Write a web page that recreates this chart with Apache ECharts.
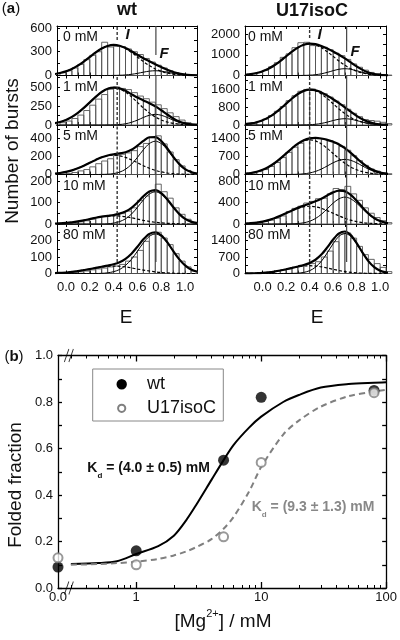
<!DOCTYPE html>
<html><head><meta charset="utf-8">
<script src="https://cdn.jsdelivr.net/npm/echarts@6/dist/echarts.min.js"></script>
<style>html,body{margin:0;padding:0;background:#fff}#c{width:400px;height:640px}</style>
</head><body><div id="c"></div>
<script>
// ---------------- DATA ----------------
const concLabels = ['0 mM','1 mM','5 mM','10 mM','80 mM'];
const eTickVals = [0,0.1,0.2,0.3,0.4,0.5,0.6,0.7,0.8,0.9,1.0];
const eLabelVals = [0,0.2,0.4,0.6,0.8,1.0];
const fitE = [-0.15,-0.1,-0.05,0,0.05,0.1,0.15,0.2,0.25,0.3,0.35,0.4,0.45,0.5,0.55,0.6,0.65,0.7,0.75,0.8,0.85,0.9,0.95,1.0,1.05,1.1];

// wt histograms (bin width 0.05)
const wtBinE = [-0.025,0.025,0.075,0.125,0.175,0.225,0.275,0.325,0.375,0.425,0.475,0.525,0.575,0.625,0.675,0.725,0.775,0.825,0.875,0.925,0.975,1.025,1.075];
const wtBars0 = [35,60,95,140,200,255,300,420,360,370,365,335,300,265,215,170,130,95,60,35,18,8,3];
const wtBars1 = [30,52,85,130,190,260,340,400,470,500,480,465,425,380,345,300,265,215,160,110,65,30,12];
const wtBars2 = [6,12,22,40,55,85,120,150,175,210,225,240,265,310,345,410,430,340,250,165,95,45,15];
const wtBars3 = [2,3,6,10,15,22,30,35,38,42,48,60,75,110,130,150,185,150,120,75,45,22,8];
const wtBars4 = [2,3,6,10,15,22,28,33,40,45,55,75,100,140,195,240,250,215,175,120,75,40,15];
const wtTotal0 = [9,17,31,52,83,125,176,234,291,340,373,386,376,347,306,261,218,180,143,107,73,44,24,11,5,2];
const wtI0 = [9,17,31,52,83,125,176,234,291,340,373,385,373,340,291,234,176,125,83,52,31,17,9,4,2,1];
const wtF0 = [0,0,0,0,0,0,0,0,0,0,0,1,3,7,15,27,42,55,60,55,42,27,15,7,3,1];
const wtTotal1 = [11,22,39,66,106,159,224,297,370,433,476,492,481,449,405,361,323,287,246,194,138,86,46,21,8,3];
const wtI1 = [11,22,39,66,106,159,224,297,370,433,475,490,475,433,370,297,224,159,106,66,39,22,11,5,2,1];
const wtF1 = [0,0,0,0,0,0,0,0,0,0,1,2,6,16,35,64,99,128,140,128,99,64,35,16,6,2];
const wtTotal2 = [5,9,17,29,46,70,98,131,162,191,211,225,234,248,275,321,373,414,416,373,292,199,118,60,27,10];
const wtI2 = [5,9,17,29,46,70,98,131,162,190,208,215,208,190,162,131,98,70,46,29,17,9,5,2,1,0];
const wtF2 = [0,0,0,0,0,0,0,0,0,1,3,10,26,58,113,190,275,344,370,344,275,190,113,58,26,10];
const wtTotal3 = [1,2,3,5,8,12,17,23,29,34,38,42,48,58,75,100,129,151,158,144,115,79,47,24,11,4];
const wtI3 = [1,2,3,5,8,12,17,23,29,34,37,38,37,34,29,23,17,12,8,5,3,2,1,0,0,0];
const wtF3 = [0,0,0,0,0,0,0,0,0,0,1,4,11,24,46,77,112,139,150,139,112,77,46,24,11,4];
const wtTotal4 = [1,2,4,6,10,15,21,27,34,41,48,56,68,89,120,162,207,240,250,231,190,137,87,49,24,11];
const wtI4 = [1,2,4,6,10,15,21,27,34,40,44,45,44,40,34,27,21,15,10,6,4,2,1,0,0,0];
const wtF4 = [0,0,0,0,0,0,0,0,0,1,4,11,24,49,86,135,186,225,240,225,186,135,86,49,24,11];
const wtYMax = [625,650,550,230,300];
const wtYLabels = [[0,300,600],[0,250,500],[0,200,400],[0,100,200],[0,100,200]];

// U17isoC histograms
const u17BinE = [-0.125,-0.075,-0.025,0.025,0.075,0.125,0.175,0.225,0.275,0.325,0.375,0.425,0.475,0.525,0.575,0.625,0.675,0.725,0.775,0.825,0.875,0.925,0.975,1.025,1.075];
const u17Bars0 = [40,80,150,250,420,620,880,1050,1350,1590,1610,1450,1430,1370,1250,1080,960,780,560,400,260,150,90,50,20];
const u17Bars1 = [45,85,160,260,420,610,820,1080,1300,1500,1580,1600,1500,1390,1240,1060,900,700,520,370,240,200,170,120,60];
const u17Bars2 = [30,60,110,190,310,460,650,850,1050,1200,1330,1420,1380,1350,1300,1200,1080,930,720,530,350,210,130,60,30];
const u17Bars3 = [8,15,25,45,70,110,150,230,290,330,390,420,470,480,560,660,640,700,560,440,300,200,120,60,25];
const u17Bars4 = [3,8,18,35,60,100,150,200,260,320,380,420,500,700,950,1350,1680,1720,1500,1150,800,600,420,260,80];
const u17Total0 = [35,67,122,207,330,497,701,929,1155,1352,1488,1545,1521,1433,1306,1162,1004,827,633,440,273,149,73,32,13,4];
const u17I0 = [35,67,122,207,330,497,701,929,1155,1351,1483,1530,1483,1351,1155,929,701,497,330,207,122,67,35,17,8,3];
const u17F0 = [0,0,0,0,0,0,0,0,0,1,5,15,38,82,151,233,303,330,303,233,151,82,38,15,5,1];
const u17Total1 = [36,69,125,211,337,507,714,947,1178,1378,1516,1572,1544,1447,1306,1145,971,787,594,409,253,139,68,29,12,4];
const u17I1 = [36,69,125,211,337,507,714,947,1178,1377,1512,1560,1512,1377,1178,947,714,507,337,211,125,69,36,17,8,3];
const u17F1 = [0,0,0,0,0,0,0,0,0,1,4,12,32,70,128,198,257,280,257,198,128,70,32,12,4,1];
const u17Total2 = [31,59,106,180,287,432,609,808,1007,1184,1315,1389,1407,1383,1331,1257,1153,1012,831,630,433,268,149,74,33,13];
const u17I2 = [31,59,106,180,287,432,609,807,1004,1174,1289,1330,1289,1174,1004,807,609,432,287,180,106,59,31,15,7,3];
const u17F2 = [0,0,0,0,0,0,0,1,3,10,26,59,118,209,327,450,544,580,544,450,327,209,118,59,26,10];
const u17Total3 = [8,15,26,45,71,107,151,201,252,300,342,381,422,471,531,588,620,607,540,433,308,195,110,55,24,10];
const u17I3 = [8,15,26,45,71,107,151,200,249,291,320,330,320,291,249,200,151,107,71,45,26,15,8,4,2,1];
const u17F3 = [0,0,0,0,0,0,0,1,3,9,22,51,102,180,282,388,469,500,469,388,282,180,102,51,22,9];
const u17Total4 = [3,7,15,28,50,82,126,179,237,298,363,449,584,803,1107,1443,1705,1782,1629,1293,889,527,270,120,46,15];
const u17I4 = [3,7,15,28,50,82,126,178,233,283,317,330,317,283,233,178,126,82,50,28,15,7,3,1,0,0];
const u17F4 = [0,0,0,0,0,0,0,1,4,15,46,119,267,520,874,1265,1579,1700,1579,1265,874,520,267,119,46,15];
const u17YMax = [2400,2200,1900,920,2100];
const u17YLabels = [[0,1000,2000],[0,800,1600],[0,700,1400],[0,400,800],[0,700,1400]];

// panel (b)
const seriesNames = ['wt','U17isoC'];
const mgConc = [0,1,5,10,80];
const wtFolded = [0.09,0.16,0.55,0.82,0.85];
const u17Folded = [0.13,0.10,0.22,0.54,0.84];
const fitConc = [0.3,0.5,0.7,1,1.5,2,2.5,3,4,5,6,8,10,15,20,30,50,80,100];
const wtFit = [0.103,0.107,0.115,0.146,0.18,0.225,0.29,0.355,0.465,0.55,0.615,0.69,0.737,0.80,0.83,0.862,0.877,0.883,0.885];
const u17Fit = [0.1,0.103,0.107,0.113,0.125,0.14,0.157,0.175,0.21,0.255,0.305,0.415,0.52,0.66,0.72,0.78,0.825,0.845,0.852];
const foldTicks = [0,0.1,0.2,0.3,0.4,0.5,0.6,0.7,0.8,0.9,1.0];
const foldLabels = [0,0.2,0.4,0.6,0.8,1.0];
const mgMajor = [1,10,100];
const mgMinor = [0.3,0.4,0.5,0.6,0.7,0.8,0.9,2,3,4,5,6,7,8,9,20,30,40,50,60,70,80,90];

// ---------------- BUILD ----------------
const FONT = '"Liberation Sans", Arial, Helvetica, sans-serif';
const ROW_TOPS = [26, 75.5, 125, 174.5, 224], ROW_H = 49.5;
const BW = 0.05;
const grids = [], xAxes = [], yAxes = [], series = [];

const cols = [
  {left:57, width:140, xmin:-0.075, xmax:1.1, eI:0.43, eF:0.755, bins:wtBinE,
   bars:[wtBars0,wtBars1,wtBars2,wtBars3,wtBars4], tot:[wtTotal0,wtTotal1,wtTotal2,wtTotal3,wtTotal4],
   I:[wtI0,wtI1,wtI2,wtI3,wtI4], F:[wtF0,wtF1,wtF2,wtF3,wtF4], ymax:wtYMax, ylab:wtYLabels,
   iStart:0.717, fStart:0.414},
  {left:245, width:141, xmin:-0.15, xmax:1.05, eI:0.40, eF:0.715, bins:u17BinE,
   bars:[u17Bars0,u17Bars1,u17Bars2,u17Bars3,u17Bars4], tot:[u17Total0,u17Total1,u17Total2,u17Total3,u17Total4],
   I:[u17I0,u17I1,u17I2,u17I3,u17I4], F:[u17F0,u17F1,u17F2,u17F3,u17F4], ymax:u17YMax, ylab:u17YLabels,
   iStart:0.758, fStart:0.475}
];

function barRender(params, api){
  const c = api.value(0), v = api.value(1);
  const a = api.coord([c - BW/2, 0]), b = api.coord([c + BW/2, v]);
  return {type:'rect', shape:{x:a[0], y:b[1], width:b[0]-a[0], height:a[1]-b[1]},
          style:{fill:'none', stroke:'#555', lineWidth:0.9}};
}
const blackLine = {color:'#000', width:1};

cols.forEach(col => {
  for (let r = 0; r < 5; r++) {
    const gi = grids.length;
    grids.push({left:col.left, top:ROW_TOPS[r], width:col.width, height:ROW_H});
    const ymax = col.ymax[r];
    const labs = col.ylab[r];
    const step = labs[1]/2;
    const yt = []; for (let v = 0; v <= ymax + 1e-9; v += step) yt.push(v);
    const xi = xAxes.length;
    xAxes.push({type:'value', gridIndex:gi, position:'bottom', min:col.xmin, max:col.xmax,
      axisLine:{show:true, onZero:false, lineStyle:blackLine},
      axisTick:{show:true, inside:true, length:3, customValues:eTickVals, lineStyle:blackLine},
      axisLabel:{show:r===4, customValues:eLabelVals, formatter:v=>v.toFixed(1), fontSize:13, color:'#111', margin:7, fontFamily:FONT},
      splitLine:{show:false}});
    xAxes.push({type:'value', gridIndex:gi, position:'top', min:col.xmin, max:col.xmax,
      axisLine:{show:true, onZero:false, lineStyle:blackLine},
      axisTick:{show:true, inside:true, length:3, customValues:eTickVals, lineStyle:blackLine},
      axisLabel:{show:false}, splitLine:{show:false}});
    const yi = yAxes.length;
    yAxes.push({type:'value', gridIndex:gi, position:'left', min:0, max:ymax,
      axisLine:{show:true, onZero:false, lineStyle:blackLine},
      axisTick:{show:true, inside:true, length:3, customValues:yt, lineStyle:blackLine},
      axisLabel:{show:true, customValues:labs, formatter:v=>String(v), fontSize:13, color:'#111', margin:5, fontFamily:FONT},
      splitLine:{show:false}});
    yAxes.push({type:'value', gridIndex:gi, position:'right', min:0, max:ymax,
      axisLine:{show:true, onZero:false, lineStyle:blackLine},
      axisTick:{show:true, inside:true, length:3, customValues:yt, lineStyle:blackLine},
      axisLabel:{show:false}, splitLine:{show:false}});
    const ax = {xAxisIndex:xi, yAxisIndex:yi};
    series.push(Object.assign({type:'custom', renderItem:barRender, silent:true, z:1,
      data: col.bins.map((e,i)=>[e, col.bars[r][i]])}, ax));
    series.push(Object.assign({type:'line', showSymbol:false, smooth:0.3, silent:true, z:3,
      lineStyle:{color:'#000', width:1},
      data: fitE.map((e,i)=>[e, col.F[r][i]])}, ax));
    series.push(Object.assign({type:'line', showSymbol:false, smooth:0.3, silent:true, z:3,
      lineStyle:{color:'#000', width:1.2, type:[3,2]},
      data: fitE.map((e,i)=>[e, col.I[r][i]])}, ax));
    series.push(Object.assign({type:'line', showSymbol:false, smooth:0.3, silent:true, z:4,
      lineStyle:{color:'#000', width:2.2},
      data: fitE.map((e,i)=>[e, col.tot[r][i]])}, ax));
    const y0I = r===0 ? col.iStart*ymax : (r===4 ? 0.23*ymax : 0);
    const y0F = r===0 ? col.fStart*ymax : (r===4 ? 0.23*ymax : 0);
    series.push(Object.assign({type:'line', showSymbol:false, silent:true, z:5,
      lineStyle:{color:'#333', width:1.4, type:[3,2]},
      data:[[col.eI, y0I],[col.eI, ymax]]}, ax));
    series.push(Object.assign({type:'line', showSymbol:false, silent:true, z:5,
      lineStyle:{color:'#444', width:1.2},
      data:[[col.eF, y0F],[col.eF, ymax]]}, ax));
  }
});

// ---- panel (b) ----
const LOG_MIN = Math.log10(0.2366), LOG_MAX = 2;
const BREAK_X = Math.log10(0.289);
const gB = grids.length;
grids.push({left:58, top:355.5, width:329.5, height:232.5});
const bLine = {color:'#000', width:1.3};
const xB = xAxes.length;
xAxes.push({type:'value', gridIndex:gB, position:'bottom', min:LOG_MIN, max:LOG_MAX,
  axisLine:{show:true, onZero:false, lineStyle:bLine},
  axisTick:{show:true, inside:true, length:6, customValues:mgMajor.map(Math.log10), lineStyle:bLine},
  axisLabel:{show:true, customValues:[LOG_MIN].concat(mgMajor.map(Math.log10)),
    formatter:v => v < -0.5 ? '0.0' : String(Math.round(Math.pow(10, v))),
    fontSize:13, color:'#111', margin:3, fontFamily:FONT},
  splitLine:{show:false}});
xAxes.push({type:'value', gridIndex:gB, position:'top', min:LOG_MIN, max:LOG_MAX,
  axisLine:{show:true, onZero:false, lineStyle:bLine},
  axisTick:{show:true, inside:true, length:6, customValues:mgMajor.map(Math.log10), lineStyle:bLine},
  axisLabel:{show:false}, splitLine:{show:false}});
xAxes.push({type:'value', gridIndex:gB, position:'bottom', min:LOG_MIN, max:LOG_MAX,
  axisLine:{show:false, onZero:false},
  axisTick:{show:true, inside:true, length:3, customValues:mgMinor.map(Math.log10), lineStyle:{color:'#000', width:1}},
  axisLabel:{show:false}, splitLine:{show:false}});
xAxes.push({type:'value', gridIndex:gB, position:'top', min:LOG_MIN, max:LOG_MAX,
  axisLine:{show:false, onZero:false},
  axisTick:{show:true, inside:true, length:3, customValues:mgMinor.map(Math.log10), lineStyle:{color:'#000', width:1}},
  axisLabel:{show:false}, splitLine:{show:false}});
const yB = yAxes.length;
yAxes.push({type:'value', gridIndex:gB, position:'left', min:0, max:1,
  axisLine:{show:true, onZero:false, lineStyle:bLine},
  axisTick:{show:true, inside:true, length:4, customValues:foldTicks, lineStyle:bLine},
  axisLabel:{show:true, customValues:foldLabels, formatter:v=>v.toFixed(1), fontSize:13, color:'#111', margin:5, fontFamily:FONT},
  splitLine:{show:false}});
yAxes.push({type:'value', gridIndex:gB, position:'right', min:0, max:1,
  axisLine:{show:true, onZero:false, lineStyle:bLine},
  axisTick:{show:true, inside:true, length:4, customValues:foldTicks, lineStyle:bLine},
  axisLabel:{show:false}, splitLine:{show:false}});
const axB = {xAxisIndex:xB, yAxisIndex:yB};
const toX = c => c > 0 ? Math.log10(c) : LOG_MIN;
series.push(Object.assign({type:'line', showSymbol:false, smooth:0.3, silent:true, z:3,
  lineStyle:{color:'#000', width:2}, data: fitConc.map((c,i)=>[Math.log10(c), wtFit[i]])}, axB));
series.push(Object.assign({type:'line', showSymbol:false, smooth:0.3, silent:true, z:3,
  lineStyle:{color:'#808080', width:2, type:[6,4]}, data: fitConc.map((c,i)=>[Math.log10(c), u17Fit[i]])}, axB));
series.push(Object.assign({type:'scatter', name:seriesNames[0], symbol:'circle', symbolSize:11, clip:false, z:6,
  itemStyle:{color:'#000'}, data: mgConc.map((c,i)=>[toX(c), wtFolded[i]])}, axB));
series.push(Object.assign({type:'scatter', name:seriesNames[1], symbol:'circle', symbolSize:9, clip:false, z:7,
  itemStyle:{color:'#fff', borderColor:'#808080', borderWidth:2}, data: mgConc.map((c,i)=>[toX(c), u17Folded[i]])}, axB));
series.push(Object.assign({type:'scatter', symbol:'path://M0,14 L5,0 M5,14 L10,0', symbolSize:[9,13], clip:false, silent:true, z:8,
  itemStyle:{color:'none', borderColor:'#000', borderWidth:1.1}, data:[[BREAK_X,0],[BREAK_X,1]]}, axB));

// ---------------- TEXT / LEGEND ----------------
function txt(x, y, text, o) {
  o = o || {};
  return {type:'text', x:x, y:y, rotation:o.rot||0, silent:true, z:100,
    style:{text:text, font:o.font||('19px '+FONT), fill:o.fill||'#111',
      align:o.align||'center', verticalAlign:o.va||'middle', rich:o.rich}};
}
const graphics = [];
graphics.push(txt(11, 9, '{p|(}{b|a}{p|)}', {rich:{p:{fontSize:15, fontFamily:FONT, fill:'#111'}, b:{fontSize:15, fontWeight:'bold', fontFamily:FONT, fill:'#111'}}}));
graphics.push(txt(127, 10, 'wt', {font:'bold 18px '+FONT}));
graphics.push(txt(312, 11, 'U17isoC', {font:'bold 18px '+FONT}));
graphics.push(txt(13, 151, 'Number of bursts', {rot:Math.PI/2}));
graphics.push(txt(126, 318, 'E'));
graphics.push(txt(317, 318, 'E'));
concLabels.forEach((lab, r) => {
  graphics.push(txt(63, ROW_TOPS[r]+11.5, lab, {font:'14px '+FONT, align:'left'}));
  graphics.push(txt(248, ROW_TOPS[r]+11.5, lab, {font:'14px '+FONT, align:'left'}));
});
graphics.push(txt(127.5, 35, 'I', {font:'italic bold 15px '+FONT}));
graphics.push(txt(319.5, 35, 'I', {font:'italic bold 15px '+FONT}));
graphics.push(txt(164, 54, 'F', {font:'italic bold 15px '+FONT}));
graphics.push(txt(355, 52, 'F', {font:'italic bold 15px '+FONT}));
graphics.push(txt(14, 357, '{p|(}{b|b}{p|)}', {rich:{p:{fontSize:15, fontFamily:FONT, fill:'#111'}, b:{fontSize:15, fontWeight:'bold', fontFamily:FONT, fill:'#111'}}}));
graphics.push(txt(16, 485, 'Folded fraction', {rot:Math.PI/2}));
graphics.push(txt(223, 621.5, '{m|[Mg}{s|2+}{m|] / mM}', {rich:{
  m:{fontSize:19, fontFamily:FONT, fill:'#111', lineHeight:26, verticalAlign:'middle'},
  s:{fontSize:11, fontFamily:FONT, fill:'#111', lineHeight:11, verticalAlign:'top'}}}));
function kdRich(color){
  return {
    m:{fontSize:14, fontWeight:'bold', fontFamily:FONT, fill:color, lineHeight:22, verticalAlign:'middle'},
    s:{fontSize:8, fontWeight:'bold', fontFamily:FONT, fill:color, lineHeight:8, verticalAlign:'bottom'}};
}
graphics.push(txt(87.3, 468.3, '{m|K}{s|d}{m| = (4.0 ± 0.5) mM}', {align:'left', rich:kdRich('#111')}));
graphics.push(txt(251.7, 507.3, '{m|K}{s|d}{m| = (9.3 ± 1.3) mM}', {align:'left', rich:kdRich('#888')}));
// legend box
graphics.push({type:'rect', silent:true, z:90, shape:{x:92.7, y:369, width:130.6, height:52},
  style:{fill:'#fff', stroke:'#888', lineWidth:1}});
graphics.push({type:'circle', silent:true, z:95, shape:{cx:121.7, cy:384.3, r:5.2}, style:{fill:'#000'}});
graphics.push({type:'circle', silent:true, z:95, shape:{cx:121.7, cy:408.3, r:3.6}, style:{fill:'#fff', stroke:'#808080', lineWidth:2}});
graphics.push(txt(147, 384.3, seriesNames[0], {font:'18px '+FONT, align:'left'}));
graphics.push(txt(147, 408.3, seriesNames[1], {font:'18px '+FONT, align:'left'}));

const option = {
  animation:false,
  backgroundColor:'#fff',
  textStyle:{fontFamily:FONT},
  grid:grids, xAxis:xAxes, yAxis:yAxes, series:series,
  graphic:graphics
};
const chart = echarts.init(document.getElementById('c'), null, {renderer:'canvas', width:400, height:640});
chart.setOption(option);
</script></body></html>
